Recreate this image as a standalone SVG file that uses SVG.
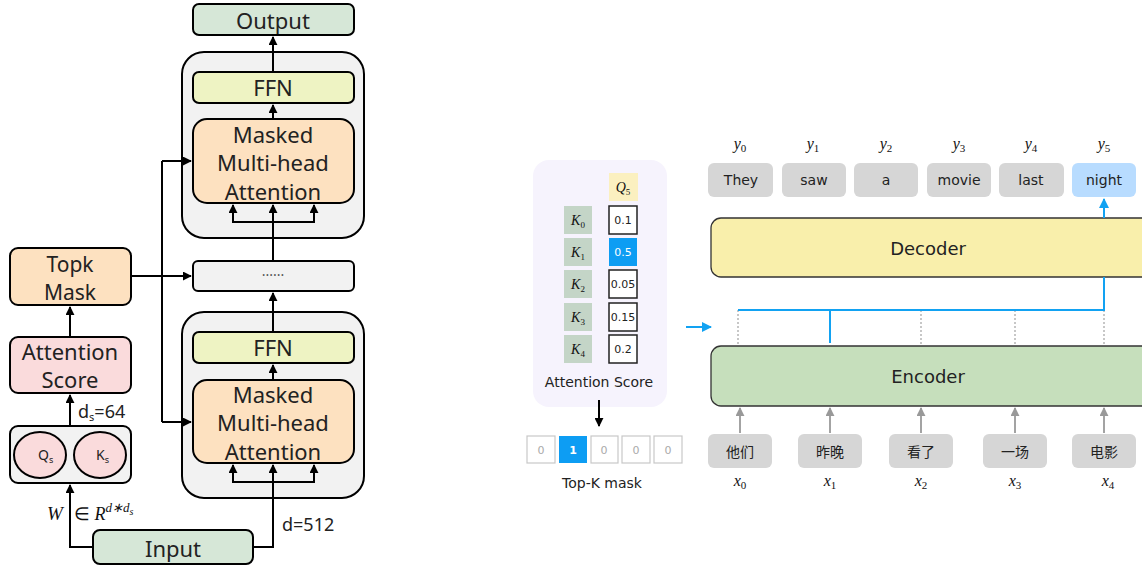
<svg xmlns="http://www.w3.org/2000/svg" width="1142" height="568" viewBox="0 0 1142 568">
  <defs>
    <marker id="ah" viewBox="0 0 10 10" refX="9" refY="5" markerWidth="4.5" markerHeight="4.5" orient="auto">
      <path d="M0,0 L10,5 L0,10 z" fill="#000"/>
    </marker>
    <marker id="ahGray" viewBox="0 0 10 10" refX="9" refY="5" markerWidth="5" markerHeight="5" orient="auto">
      <path d="M0,0 L10,5 L0,10 z" fill="#999"/>
    </marker>
    <marker id="ahBlue" viewBox="0 0 10 10" refX="9" refY="5" markerWidth="5" markerHeight="5" orient="auto">
      <path d="M0,0 L10,5 L0,10 z" fill="#12a2f2"/>
    </marker>
    <style>
      .box { stroke: #000; stroke-width: 2; }
      .green { fill: #d6e7d7; }
      .ffn { fill: #eef3c3; }
      .peach { fill: #fde1c0; }
      .pink { fill: #fadbdc; }
      .grey { fill: #f2f2f2; }
      .lt { font-family: "Noto Sans", "DejaVu Sans", sans-serif; font-size: 22px; fill: #222; text-anchor: middle; }
      .lbl { font-family: "Noto Sans", "DejaVu Sans", sans-serif; font-size: 18px; fill: #222; }
      .conn { fill: none; stroke: #000; stroke-width: 2; }
      .rt { font-family: "DejaVu Sans", "Noto Sans", sans-serif; fill: #222; text-anchor: middle; }
      .tok { fill: #d6d6d6; }
      .math { font-family: "Liberation Serif", "DejaVu Serif", serif; font-style: italic; fill: #111; text-anchor: middle; }
      .sub { font-style: normal; }
      .kbox { fill: #c4d5c7; }
      .score { fill: #fff; stroke: #222; stroke-width: 1.5; }
      .mask { fill: #fff; stroke: #c8c8c8; stroke-width: 1.2; }
      .blue { fill: none; stroke: #12a2f2; stroke-width: 2; }
      .dot { fill: none; stroke: #aaa; stroke-width: 1.3; stroke-dasharray: 2 2; }
      .garr { fill: none; stroke: #999; stroke-width: 1.8; }
    </style>
  </defs>

  <!-- ===== Left: sparse top-k attention decoder stack ===== -->
  <g id="output">
    <rect x="193" y="4" width="161" height="31" rx="6" class="box green"/>
    <text x="273" y="29" class="lt">Output</text>
  </g>

  <g id="block-upper">
    <rect x="182" y="52" width="182" height="186" rx="22" class="box grey"/>
    <rect x="193" y="72" width="161" height="31" rx="6" class="box ffn"/>
    <text x="273" y="96" class="lt">FFN</text>
    <rect x="193" y="119" width="161" height="84" rx="14" class="box peach"/>
    <text x="273" y="143" class="lt">Masked</text>
    <text x="273" y="171" class="lt">Multi-head</text>
    <text x="273" y="200" class="lt">Attention</text>
  </g>

  <g id="ellipsis">
    <rect x="193" y="261" width="161" height="30" rx="5" class="box grey"/>
    <text x="273" y="280" class="lt" style="font-size:14px;fill:#555">······</text>
  </g>

  <g id="block-lower">
    <rect x="182" y="312" width="182" height="186" rx="22" class="box grey"/>
    <rect x="193" y="332" width="161" height="31" rx="6" class="box ffn"/>
    <text x="273" y="356" class="lt">FFN</text>
    <rect x="193" y="380" width="161" height="83" rx="14" class="box peach"/>
    <text x="273" y="403" class="lt">Masked</text>
    <text x="273" y="431" class="lt">Multi-head</text>
    <text x="273" y="460" class="lt">Attention</text>
  </g>

  <g id="topk-mask">
    <rect x="10" y="248" width="121" height="57" rx="8" class="box peach"/>
    <text x="70" y="272" class="lt" style="font-size:21px">Topk</text>
    <text x="70" y="300" class="lt" style="font-size:21px">Mask</text>
  </g>

  <g id="attention-score-left">
    <rect x="10" y="337" width="121" height="56" rx="8" class="box pink"/>
    <text x="70" y="360" class="lt">Attention</text>
    <text x="70" y="388" class="lt">Score</text>
  </g>

  <g id="qk">
    <rect x="10" y="426" width="121" height="57" rx="8" class="box grey"/>
    <ellipse cx="40" cy="455" rx="26" ry="23" class="box pink"/>
    <ellipse cx="100" cy="455" rx="26" ry="23" class="box pink"/>
    <text x="38" y="460" class="lbl" style="font-size:14px">Q<tspan font-size="9" dy="3">s</tspan></text>
    <text x="96" y="460" class="lbl" style="font-size:14px">K<tspan font-size="9" dy="3">s</tspan></text>
  </g>

  <g id="input">
    <rect x="93" y="530" width="160" height="34" rx="7" class="box green"/>
    <text x="173" y="557" class="lt">Input</text>
  </g>

  <g id="connectors-left">
    <path class="conn" d="M93,547 H70 V485" marker-end="url(#ah)"/>
    <path class="conn" d="M70,426 V395" marker-end="url(#ah)"/>
    <path class="conn" d="M70,337 V307" marker-end="url(#ah)"/>
    <path class="conn" d="M131,276 H191" marker-end="url(#ah)"/>
    <path class="conn" d="M162,161 V422"/>
    <path class="conn" d="M162,161 H191" marker-end="url(#ah)"/>
    <path class="conn" d="M162,422 H191" marker-end="url(#ah)"/>
    <!-- lower block -->
    <path class="conn" d="M253,547 H273 V465" marker-end="url(#ah)"/>
    <path class="conn" d="M233,465 V482 H314 V465" marker-end="url(#ah)"/>
    <path class="conn" d="M233,482 V465" marker-end="url(#ah)"/>
    <path class="conn" d="M273,380 V365" marker-end="url(#ah)"/>
    <path class="conn" d="M273,332 V293" marker-end="url(#ah)"/>
    <!-- upper block -->
    <path class="conn" d="M273,261 V205" marker-end="url(#ah)"/>
    <path class="conn" d="M233,205 V222 H314 V205" marker-end="url(#ah)"/>
    <path class="conn" d="M233,222 V205" marker-end="url(#ah)"/>
    <path class="conn" d="M273,119 V105" marker-end="url(#ah)"/>
    <path class="conn" d="M273,72 V37" marker-end="url(#ah)"/>
  </g>

  <g id="labels-left">
    <text x="282" y="531" class="lbl">d=512</text>
    <text x="78" y="418" class="lbl">d<tspan font-size="11" dy="3">s</tspan><tspan dy="-3">=64</tspan></text>
    <text x="47" y="520" style="font-family:'Liberation Serif',serif;font-size:19px;font-style:italic;fill:#111">W</text>
    <text x="74" y="520" style="font-family:'Liberation Serif',serif;font-size:18px;fill:#111">∈ <tspan font-style="italic">R</tspan><tspan font-style="italic" font-size="13" dy="-8">d∗d</tspan><tspan font-style="italic" font-size="10" dy="3">s</tspan></text>
  </g>

  <!-- ===== Middle: attention score column and top-k mask ===== -->
  <g id="score-panel">
    <rect x="533" y="160" width="134" height="247" rx="16" fill="#f6f3fd"/>
    <rect x="609" y="173" width="29" height="28" fill="#fbf0c0"/>
    <text x="623" y="192" class="math" font-size="14">Q<tspan class="sub" font-size="9" dy="3">5</tspan></text>

    <rect x="564" y="206" width="28" height="28" class="kbox"/>
    <rect x="564" y="238" width="28" height="28" class="kbox"/>
    <rect x="564" y="270" width="28" height="28" class="kbox"/>
    <rect x="564" y="303" width="28" height="28" class="kbox"/>
    <rect x="564" y="335" width="28" height="28" class="kbox"/>
    <text x="578" y="225" class="math" font-size="14">K<tspan class="sub" font-size="9" dy="3">0</tspan></text>
    <text x="578" y="257" class="math" font-size="14">K<tspan class="sub" font-size="9" dy="3">1</tspan></text>
    <text x="578" y="289" class="math" font-size="14">K<tspan class="sub" font-size="9" dy="3">2</tspan></text>
    <text x="578" y="322" class="math" font-size="14">K<tspan class="sub" font-size="9" dy="3">3</tspan></text>
    <text x="578" y="354" class="math" font-size="14">K<tspan class="sub" font-size="9" dy="3">4</tspan></text>

    <rect x="609" y="206" width="28" height="28" class="score"/>
    <rect x="609" y="238" width="28" height="28" fill="#0d9df3"/>
    <rect x="609" y="270" width="28" height="28" class="score"/>
    <rect x="609" y="303" width="28" height="28" class="score"/>
    <rect x="609" y="335" width="28" height="28" class="score"/>
    <text x="623" y="224" class="rt" font-size="11">0.1</text>
    <text x="623" y="256" class="rt" font-size="11" style="fill:#fff">0.5</text>
    <text x="623" y="288" class="rt" font-size="11">0.05</text>
    <text x="623" y="321" class="rt" font-size="11">0.15</text>
    <text x="623" y="353" class="rt" font-size="11">0.2</text>

    <text x="599" y="387" class="rt" font-size="14">Attention Score</text>
  </g>

  <g id="topk-row">
    <rect x="527" y="436" width="28" height="27" class="mask"/>
    <rect x="559" y="436" width="28" height="27" fill="#0d9df3"/>
    <rect x="591" y="436" width="27" height="27" class="mask"/>
    <rect x="622" y="436" width="28" height="27" class="mask"/>
    <rect x="654" y="436" width="28" height="27" class="mask"/>
    <text x="541" y="454" class="rt" font-size="11" style="fill:#aaa">0</text>
    <text x="573" y="454" class="rt" font-size="11" font-weight="bold" style="fill:#fff">1</text>
    <text x="604" y="454" class="rt" font-size="11" style="fill:#aaa">0</text>
    <text x="636" y="454" class="rt" font-size="11" style="fill:#aaa">0</text>
    <text x="668" y="454" class="rt" font-size="11" style="fill:#aaa">0</text>
    <text x="602" y="488" class="rt" font-size="14">Top-K mask</text>
  </g>

  <!-- ===== Right: encoder-decoder translation ===== -->
  <g id="decoder">
    <rect x="711" y="218" width="445" height="59" rx="10" fill="#f9efab" stroke="#333" stroke-width="1.3"/>
    <text x="928" y="255" class="rt" font-size="18">Decoder</text>
  </g>

  <g id="encoder">
    <rect x="711" y="346" width="445" height="60" rx="10" fill="#c6dfbc" stroke="#333" stroke-width="1.3"/>
    <text x="928" y="383" class="rt" font-size="18">Encoder</text>
  </g>

  <g id="targets">
    <rect x="708" y="163" width="65" height="34" rx="6" class="tok"/>
    <rect x="782" y="163" width="64" height="34" rx="6" class="tok"/>
    <rect x="854" y="163" width="64" height="34" rx="6" class="tok"/>
    <rect x="927" y="163" width="64" height="34" rx="6" class="tok"/>
    <rect x="999" y="163" width="65" height="34" rx="6" class="tok"/>
    <rect x="1072" y="163" width="64" height="34" rx="6" fill="#b8dcff"/>
    <text x="741" y="185" class="rt" font-size="14">They</text>
    <text x="814" y="185" class="rt" font-size="14">saw</text>
    <text x="886" y="185" class="rt" font-size="14">a</text>
    <text x="959" y="185" class="rt" font-size="14">movie</text>
    <text x="1031" y="185" class="rt" font-size="14">last</text>
    <text x="1104" y="185" class="rt" font-size="14">night</text>
    <text x="740" y="149" class="math" font-size="16">y<tspan class="sub" font-size="11" dy="3">0</tspan></text>
    <text x="813" y="149" class="math" font-size="16">y<tspan class="sub" font-size="11" dy="3">1</tspan></text>
    <text x="886" y="149" class="math" font-size="16">y<tspan class="sub" font-size="11" dy="3">2</tspan></text>
    <text x="959" y="149" class="math" font-size="16">y<tspan class="sub" font-size="11" dy="3">3</tspan></text>
    <text x="1031" y="149" class="math" font-size="16">y<tspan class="sub" font-size="11" dy="3">4</tspan></text>
    <text x="1104" y="149" class="math" font-size="16">y<tspan class="sub" font-size="11" dy="3">5</tspan></text>
  </g>

  <g id="sources">
    <rect x="708" y="434" width="64" height="34" rx="6" class="tok"/>
    <rect x="798" y="434" width="64" height="34" rx="6" class="tok"/>
    <rect x="889" y="434" width="64" height="34" rx="6" class="tok"/>
    <rect x="983" y="434" width="64" height="34" rx="6" class="tok"/>
    <rect x="1072" y="434" width="64" height="34" rx="6" class="tok"/>
    <text x="740" y="457" class="rt" font-size="14" style="font-family:'Noto Sans CJK SC',sans-serif">他们</text>
    <text x="830" y="457" class="rt" font-size="14" style="font-family:'Noto Sans CJK SC',sans-serif">昨晚</text>
    <text x="921" y="457" class="rt" font-size="14" style="font-family:'Noto Sans CJK SC',sans-serif">看了</text>
    <text x="1015" y="457" class="rt" font-size="14" style="font-family:'Noto Sans CJK SC',sans-serif">一场</text>
    <text x="1104" y="457" class="rt" font-size="14" style="font-family:'Noto Sans CJK SC',sans-serif">电影</text>
    <text x="740" y="486" class="math" font-size="16">x<tspan class="sub" font-size="11" dy="3">0</tspan></text>
    <text x="830" y="486" class="math" font-size="16">x<tspan class="sub" font-size="11" dy="3">1</tspan></text>
    <text x="921" y="486" class="math" font-size="16">x<tspan class="sub" font-size="11" dy="3">2</tspan></text>
    <text x="1015" y="486" class="math" font-size="16">x<tspan class="sub" font-size="11" dy="3">3</tspan></text>
    <text x="1108" y="486" class="math" font-size="16">x<tspan class="sub" font-size="11" dy="3">4</tspan></text>
  </g>

  <g id="connectors-right">
    <path class="conn" d="M599,400 V426" stroke-width="1.5" marker-end="url(#ah)"/>
    <path class="blue" d="M686,327 H711" marker-end="url(#ahBlue)"/>
    <path class="dot" d="M738,310 V345"/>
    <path class="dot" d="M921,310 V345"/>
    <path class="dot" d="M1015,310 V345"/>
    <path class="dot" d="M1104,310 V345"/>
    <path class="blue" d="M738,310 H1104 V277"/>
    <path class="blue" d="M830,310 V343"/>
    <path class="blue" d="M1104,218 V199" marker-end="url(#ahBlue)"/>
    <path class="garr" d="M740,433 V408" marker-end="url(#ahGray)"/>
    <path class="garr" d="M830,433 V408" marker-end="url(#ahGray)"/>
    <path class="garr" d="M921,433 V408" marker-end="url(#ahGray)"/>
    <path class="garr" d="M1015,433 V408" marker-end="url(#ahGray)"/>
    <path class="garr" d="M1104,433 V408" marker-end="url(#ahGray)"/>
  </g>
</svg>
